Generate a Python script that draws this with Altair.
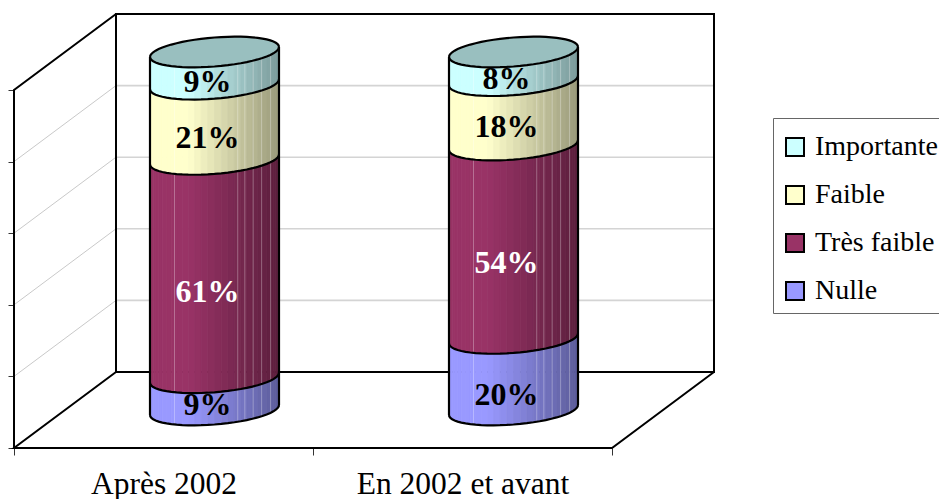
import math
import altair as alt
import pandas as pd

categories = ["Après 2002", "En 2002 et avant"]
series = ["Nulle", "Très faible", "Faible", "Importante"]
colors = ["#9999FF", "#993366", "#FFFFCC", "#CCFFFF"]
text_colors = ["black", "white", "black", "black"]
values_apres = [9, 61, 21, 9]
values_avant = [20, 54, 18, 8]
table = [values_apres, values_avant]
grid_values = [20, 40, 60, 80]
tick_values = [0, 20, 40, 60, 80, 100]
# label lift below the mid-height of a segment, in value units
label_drop = [[3.1, 6.4, 4.5, 3.9], [5.9, 5.9, 3.9, 3.6]]
# lighter facet seams, as a fraction of the cylinder radius
seam_us = [-0.62, 0.36, 0.47, 0.6, 0.73, 0.87]

FONT = "Liberation Serif"
PX_X, PX_Y = 299.0, 3.58          # pixels per category, per percent
PLOT_W, PLOT_H = 925, 440
DX, DY = 102 / PX_X, 76 / PX_Y    # oblique depth offset
RX, RY, SHEAR = 64.5 / PX_X, 14.5 / PX_Y, 5 / PX_Y
N = 30
DEPTH = 0.5

xs = alt.Scale(domain=[0, PLOT_W / PX_X], nice=False, zero=False)
ys = alt.Scale(domain=[0, PLOT_H / PX_Y], nice=False, zero=False)


def X(axis=None):
    return alt.X("x:Q", scale=xs, axis=axis, title=None)


def Y(axis=None):
    return alt.Y("y:Q", scale=ys, axis=axis, title=None)


def hexmul(col, f):
    r, g, b = (int(col[i:i + 2], 16) for i in (1, 3, 5))
    return "#%02x%02x%02x" % (round(r * f), round(g * f), round(b * f))


def shade(u):
    return 1.0 if u < -0.4 else 1.0 - 0.4 * (u + 0.4) / 1.4


def front(v, u):
    return v + DEPTH * DY + SHEAR * u - RY * math.sqrt(max(0.0, 1 - u * u))


def back(v, u):
    return v + DEPTH * DY + SHEAR * u + RY * math.sqrt(max(0.0, 1 - u * u))


us = [-math.cos(math.pi * i / N) for i in range(N + 1)]

facets, outlines, caps, labels, seams = [], [], [], [], []
for c, vals in enumerate(table):
    cx = c + 0.5 + DEPTH * DX
    base = 0
    for s, val in enumerate(vals):
        top = base + val
        for i in range(N):
            u0, u1 = us[i], us[i + 1]
            col = hexmul(colors[s], shade((u0 + u1) / 2))
            key = f"{c}-{s}-{i}"
            for u in (u0, u1):
                facets.append({"k": key, "x": cx + RX * u, "y": front(base, u), "y2": front(top, u), "fill": col})
        for j, u in enumerate(us):
            outlines.append({"k": f"{c}-e{s}", "o": j, "x": cx + RX * u, "y": front(base, u)})
        mid = (base + top) / 2
        labels.append({"x": cx - 7 / PX_X, "y": mid + DEPTH * DY - label_drop[c][s],
                       "t": f"{val}%", "col": text_colors[s]})
        base = top
    for u in seam_us:
        for j, v in enumerate((0, base)):
            seams.append({"k": f"{c}-{u}", "o": j, "x": cx + RX * u, "y": front(v, u)})
    for su, name in ((-1, "l"), (1, "r")):
        for j, v in enumerate((0, base)):
            outlines.append({"k": f"{c}-{name}", "o": j, "x": cx + RX * su, "y": front(v, su)})
    for j, u in enumerate(us):
        outlines.append({"k": f"{c}-ef", "o": j, "x": cx + RX * u, "y": front(base, u)})
        caps.append({"k": c, "x": cx + RX * u, "y": front(base, u), "y2": back(base, u)})
    for j, u in enumerate(us):
        outlines.append({"k": f"{c}-eb", "o": j, "x": cx + RX * u, "y": back(base, u)})

diag_rows, back_rows = [], []
for v in grid_values:
    diag_rows += [{"k": f"s{v}", "o": 0, "x": 0, "y": v}, {"k": f"s{v}", "o": 1, "x": DX, "y": v + DY}]
    back_rows += [{"k": f"s{v}", "o": 0, "x": DX, "y": v + DY}, {"k": f"s{v}", "o": 1, "x": 2 + DX, "y": v + DY}]
frame_rows = []
for k, pts in {
    "wall": [(DX, 0 + DY), (DX, 100 + DY), (2 + DX, 100 + DY), (2 + DX, DY), (DX, DY)],
    "side": [(0, 0), (0, 100), (DX, 100 + DY)],
    "floor": [(DX, DY), (0, 0), (2, 0), (2 + DX, DY)],
}.items():
    frame_rows += [{"k": k, "o": i, "x": p[0], "y": p[1]} for i, p in enumerate(pts)]

grid = alt.Chart(pd.DataFrame(diag_rows)).mark_line(color="#c9c9c9", strokeWidth=1).encode(
    x=X(),
    y=Y(alt.Axis(values=tick_values, labels=False, domain=False, grid=False, ticks=True,
                 tickColor="#333333", tickSize=6, tickWidth=1, orient="left")),
    detail="k:N", order="o:Q")

grid_back = alt.Chart(pd.DataFrame(back_rows)).mark_line(color="#d4d4d4", strokeWidth=1.6).encode(
    x=X(), y=Y(), detail="k:N", order="o:Q")

frame = alt.Chart(pd.DataFrame(frame_rows)).mark_line(color="black", strokeWidth=2).encode(
    x=X(alt.Axis(values=[0, 1, 2], labels=False, domain=False, grid=False, ticks=True,
                 tickColor="#333333", tickSize=7, tickWidth=1, orient="bottom")),
    y=Y(), detail="k:N", order="o:Q")

facet_layer = alt.Chart(pd.DataFrame(facets)).mark_area(interpolate="linear", strokeWidth=0.8).encode(
    x=X(), y=Y(), y2="y2:Q", detail="k:N",
    color=alt.Color("fill:N", scale=None), stroke=alt.Stroke("fill:N", scale=None))

seam_layer = alt.Chart(pd.DataFrame(seams)).mark_line(color="white", strokeWidth=1, opacity=0.3).encode(
    x=X(), y=Y(), detail="k:N", order="o:Q")

text_layer = alt.Chart(pd.DataFrame(labels)).mark_text(
    font=FONT, fontSize=32, fontWeight="bold", baseline="middle", align="center"
).encode(x=X(), y=Y(), text="t:N", color=alt.Color("col:N", scale=None))

cap_layer = alt.Chart(pd.DataFrame(caps)).mark_area(interpolate="linear", color=hexmul(colors[3], 0.75)).encode(
    x=X(), y=Y(), y2="y2:Q", detail="k:N")

outline_layer = alt.Chart(pd.DataFrame(outlines)).mark_line(color="black", strokeWidth=2.2).encode(
    x=X(), y=Y(), detail="k:N", order="o:Q")

label_expr = "datum.value < 1 ? '%s' : '%s'" % (categories[0], categories[1])
cat_axis = alt.Chart(pd.DataFrame({"x": [0.5, 1.5], "y": [0, 0]})).mark_point(opacity=0).encode(
    x=X(alt.Axis(values=[0.5, 1.5], labelExpr=label_expr, ticks=False, domain=False, grid=False,
                 labelFont=FONT, labelFontSize=31.5, labelColor="black", labelPadding=20,
                 labelOverlap=False, labelFlush=False, labelAngle=0, labelLimit=500, orient="bottom")),
    y=Y())

legend_rows = pd.DataFrame({"s": series[::-1], "x": [0] * 4, "y": [0] * 4})
legend_layer = alt.Chart(legend_rows).mark_square(size=0).encode(
    x=X(), y=Y(),
    color=alt.Color("s:N", sort=None,
                    scale=alt.Scale(domain=series[::-1], range=colors[::-1]),
                    legend=alt.Legend(
                        title=" ", titleFontSize=1, titlePadding=6,
                        orient="none", legendX=759, legendY=110,
                        fillColor="white", strokeColor="#666666", padding=8,
                        symbolType="square", symbolSize=324, symbolStrokeColor="black",
                        symbolStrokeWidth=2, symbolOpacity=1,
                        labelFont=FONT, labelFontSize=28, labelColor="black",
                        labelOffset=6, rowPadding=20, labelLimit=300)))

chart = alt.layer(grid, grid_back, frame, cat_axis, facet_layer, seam_layer, text_layer, cap_layer,
                  outline_layer, legend_layer).resolve_scale(
    color="independent", stroke="independent"
).resolve_axis(x="independent", y="independent").properties(
    width=PLOT_W, height=PLOT_H,
    autosize=alt.AutoSizeParams(type="none"),
    padding={"left": 6, "top": 0, "right": 0, "bottom": 51},
    background="white",
).configure_view(stroke=None)

chart.save("out.html", embed_options={"renderer": "svg", "actions": False})
